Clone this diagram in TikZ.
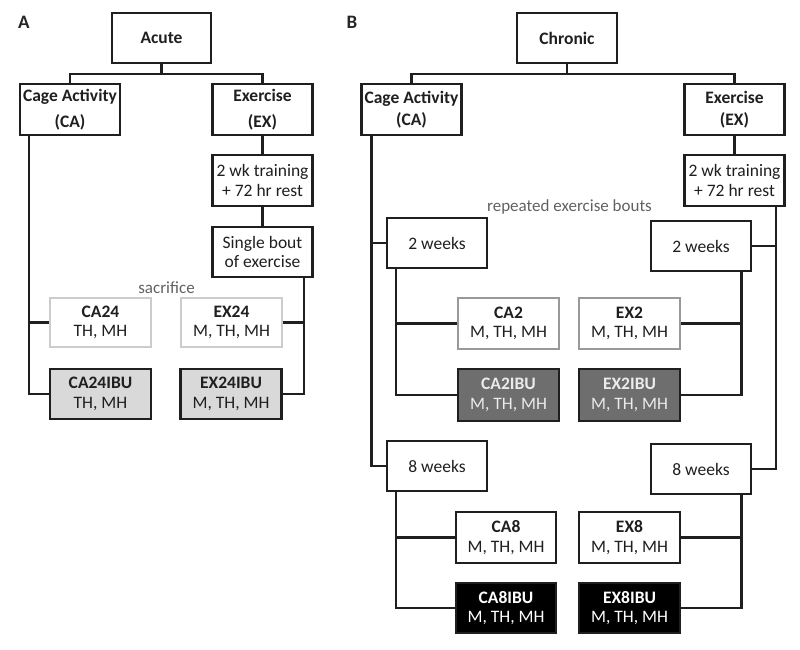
\documentclass[tikz,border=0pt]{standalone}
\usepackage{fontspec}
\setmainfont{Carlito}
\begin{document}
\begin{tikzpicture}[x=1pt,y=-1pt,
  box/.style={draw=black!88,line width=2.5pt,fill=white,minimum width=100pt,minimum height=50pt,
    align=center,inner sep=0pt,text=black!88,font=\fontsize{17.5}{19.5}\selectfont},
  pale/.style={box,draw=black!20,line width=2pt},
  mid/.style={box,draw=black!40,line width=2pt},
  ibuA/.style={box,fill=black!15},
  ibuB/.style={box,fill=black!57,text=white!92!black},
  ibuC/.style={box,fill=black,text=white},
  conn/.style={draw=black!88,line width=2.5pt},
  lab/.style={font=\fontsize{19}{21}\selectfont\bfseries,text=black!85},
  note/.style={font=\fontsize{17}{19}\selectfont,text=black!62}]
\useasboundingbox (0,0) rectangle (800,650);
% Panel A
\node[lab] (labA) at (24,22) {A};
\node[box,minimum width=99pt,font=\fontsize{17.5}{19.5}\selectfont\bfseries] (acute) at (161.5,38) {Acute};
\node[box,minimum height=51pt,font=\fontsize{17.5}{19.5}\selectfont\bfseries] (caA) at (70,109.5) {Cage Activity\\[7pt](CA)};
\node[box,minimum height=51pt,font=\fontsize{17.5}{19.5}\selectfont\bfseries] (exA) at (262.5,109.5) {Exercise\\[7pt](EX)};
\node[box,minimum height=51pt] (trainA) at (262.5,180.5) {2 wk training\\+ 72 hr rest};
\node[box] (boutA) at (262.5,252) {Single bout\\of exercise};
\node[note] (sac) at (166.5,288) {sacrifice};
\node[pale,minimum width=101pt,minimum height=49pt] (ca24) at (100.5,322.5) {\textbf{CA24}\\TH, MH};
\node[pale,minimum width=101pt,minimum height=49pt] (ex24) at (231.5,322.5) {\textbf{EX24}\\M, TH, MH};
\node[ibuA,minimum width=101pt] (ca24i) at (100.5,394) {\textbf{CA24IBU}\\TH, MH};
\node[ibuA,minimum width=101pt] (ex24i) at (231,394) {\textbf{EX24IBU}\\M, TH, MH};
\draw[conn] (acute.south) -- ++(0,10) coordinate (jA);
\draw[conn] (caA.north) |- (jA) -| (exA.north);
\coordinate (lA) at ([xshift=10pt]caA.south west);
\draw[conn] (lA) |- (ca24i.west);
\draw[conn] (ca24.west) -- (ca24.west -| lA);
\draw[conn] (exA.south) -- (trainA.north);
\draw[conn] (trainA.south) -- (boutA.north);
\coordinate (rA) at ([xshift=-10pt]boutA.south east);
\draw[conn] (rA) |- (ex24i.east);
\draw[conn] (ex24.east) -- (ex24.east -| rA);
% Panel B
\node[lab] (labB) at (352,22) {B};
\node[box,font=\fontsize{17.5}{19.5}\selectfont\bfseries] (chronic) at (567,38) {Chronic};
\node[box,minimum height=51pt,font=\fontsize{17.5}{19.5}\selectfont\bfseries] (caB) at (411.5,109.5) {Cage Activity\\[2pt](CA)};
\node[box,minimum height=51pt,font=\fontsize{17.5}{19.5}\selectfont\bfseries] (exB) at (734.5,109.5) {Exercise\\[2pt](EX)};
\node[box,minimum height=51pt] (trainB) at (734.5,180.5) {2 wk training\\+ 72 hr rest};
\node[note] (rep) at (569.5,207) {repeated exercise bouts};
\node[box] (w2c) at (437,243) {2 weeks};
\node[box] (w2e) at (701,246) {2 weeks};
\node[mid,minimum width=101pt,minimum height=51pt] (ca2) at (508.5,323.5) {\textbf{CA2}\\M, TH, MH};
\node[mid,minimum width=101pt,minimum height=51pt] (ex2) at (629.5,323.5) {\textbf{EX2}\\M, TH, MH};
\node[ibuB,minimum width=101pt,minimum height=52pt] (ca2i) at (508.5,395) {\textbf{CA2IBU}\\M, TH, MH};
\node[ibuB,minimum width=101pt,minimum height=52pt] (ex2i) at (629.5,395) {\textbf{EX2IBU}\\M, TH, MH};
\node[box] (w8c) at (437,466) {8 weeks};
\node[box] (w8e) at (701,469) {8 weeks};
\node[box,minimum height=51pt] (ca8) at (506,537.5) {\textbf{CA8}\\M, TH, MH};
\node[box,minimum width=101pt,minimum height=51pt] (ex8) at (629.5,537.5) {\textbf{EX8}\\M, TH, MH};
\node[ibuC] (ca8i) at (506,608) {\textbf{CA8IBU}\\M, TH, MH};
\node[ibuC,minimum width=101pt] (ex8i) at (629.5,608) {\textbf{EX8IBU}\\M, TH, MH};
\draw[conn] (chronic.south) -- ++(0,10) coordinate (jB);
\draw[conn] (caB.north) |- (jB) -| (exB.north);
\coordinate (lB) at ([xshift=11pt]caB.south west);
\draw[conn] (lB) |- (w8c.west);
\draw[conn] (w2c.west) -- (w2c.west -| lB);
\draw[conn] (exB.south) -- (trainB.north);
\coordinate (rB) at ([xshift=-10pt]trainB.south east);
\draw[conn] (rB) |- (w8e.east);
\draw[conn] (w2e.east) -- (w2e.east -| rB);
\coordinate (l2) at ([xshift=10pt]w2c.south west);
\draw[conn] (l2) |- (ca2i.west);
\draw[conn] (ca2.west) -- (ca2.west -| l2);
\coordinate (r2) at ([xshift=-11pt]w2e.south east);
\draw[conn] (r2) |- (ex2i.east);
\draw[conn] (ex2.east) -- (ex2.east -| r2);
\coordinate (l8) at ([xshift=10pt]w8c.south west);
\draw[conn] (l8) |- (ca8i.west);
\draw[conn] (ca8.west) -- (ca8.west -| l8);
\coordinate (r8) at ([xshift=-11pt]w8e.south east);
\draw[conn] (r8) |- (ex8i.east);
\draw[conn] (ex8.east) -- (ex8.east -| r8);
\end{tikzpicture}
\end{document}
